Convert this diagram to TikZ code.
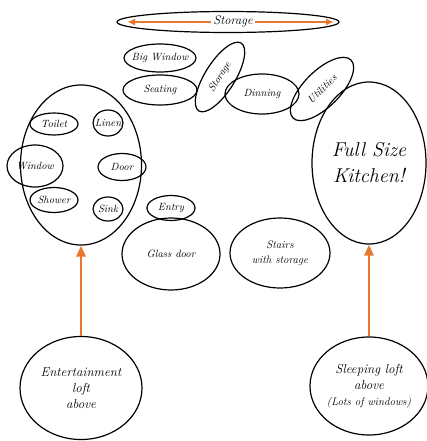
\documentclass[tikz,border=0pt]{standalone}
\usetikzlibrary{shapes.geometric,arrows.meta}
\definecolor{arrorange}{HTML}{E8772E}
\begin{document}
\begin{tikzpicture}[x=1pt,y=-1pt,
  room/.style={draw=black, line width=1.2pt, ellipse, inner sep=-3pt, align=center, font=\itshape\fontsize{10.5}{12}\selectfont},
  bigarrow/.style={draw=arrorange, line width=2.8pt, -{Triangle[length=11pt,width=9pt]}},
  thinarrow/.style={draw=arrorange, line width=1.6pt, {Triangle[length=7pt,width=6pt]}-{Triangle[length=7pt,width=6pt]}}]
\useasboundingbox (0,0) rectangle (427,441);
% top storage
\node[room, minimum width=222pt, minimum height=21pt] (topstor) at (228,22) {};
\coordinate (tsl) at (128,22);
\coordinate (tsr) at (333,22);
\draw[thinarrow] (tsl) -- (tsr);
\node[fill=white, inner sep=2pt, font=\itshape\fontsize{12.5}{13}\selectfont] (tstxt) at (233,21) {Storage};
% upper row
\node[room, minimum width=72pt, minimum height=28pt] (bigwin) at (160,58) {Big Window};
\node[room, minimum width=74pt, minimum height=30pt] (seat) at (160,90) {Seating};
\node[room, minimum width=80pt, minimum height=30pt, rotate=58] (stor2) at (220,77) {Storage};
\node[room, minimum width=74pt, minimum height=40pt] (din) at (262,94) {Dinning};
\node[room, minimum width=82pt, minimum height=36pt, rotate=45] (util) at (322,89) {Utilities};
% bathroom
\node[room, minimum width=121pt, minimum height=160pt] (bath) at (81,165) {};
\node[room, minimum width=48pt, minimum height=22pt] (toilet) at (54,124) {Toilet};
\node[room, minimum width=30pt, minimum height=26pt] (linen) at (108,123) {Linen};
\node[room, minimum width=56pt, minimum height=42pt] (window) at (35,166) {Window};
\node[room, minimum width=48pt, minimum height=27pt] (door) at (122,167) {Door};
\node[room, minimum width=48pt, minimum height=25pt] (shower) at (54,200) {Shower};
\node[room, minimum width=30pt, minimum height=24pt] (sink) at (108,209) {Sink};
% kitchen
\node[room, minimum width=114pt, minimum height=162pt, font=\itshape\fontsize{20}{26}\selectfont] (kitchen) at (369,163) {Full Size\\Kitchen!};
% middle
\node[room, minimum width=48pt, minimum height=25pt] (entry) at (171,208) {Entry};
\node[room, minimum width=98pt, minimum height=72pt] (glass) at (171,254) {Glass door};
\node[room, minimum width=100pt, minimum height=70pt, font=\itshape\fontsize{11}{15}\selectfont] (stairs) at (280,253) {Stairs\\with storage};
% lofts
\node[room, minimum width=122pt, minimum height=103pt, font=\itshape\fontsize{13}{16}\selectfont] (ent) at (81,388) {Entertainment\\loft\\above};
\node[room, minimum width=118pt, minimum height=98pt, font=\itshape\fontsize{13}{16}\selectfont] (sleep) at (369,386) {Sleeping loft\\above\\{\fontsize{11}{14}\selectfont(Lots of windows)}};
% arrows
\draw[bigarrow] (ent.north) -- (bath.south);
\draw[bigarrow] (sleep.north) -- (kitchen.south);
\end{tikzpicture}
\end{document}
